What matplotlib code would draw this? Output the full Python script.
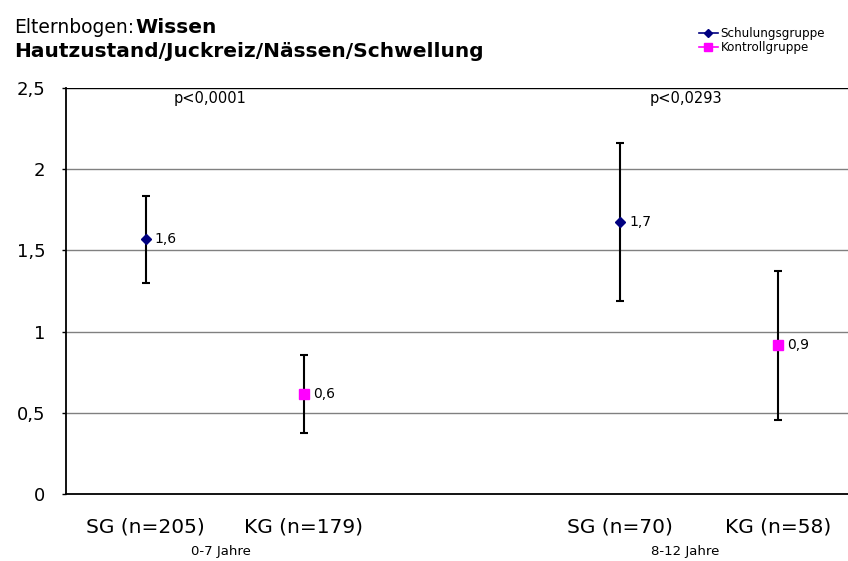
import matplotlib
matplotlib.use("Agg")
import matplotlib.pyplot as plt
import matplotlib.transforms as mtransforms
from matplotlib.lines import Line2D

categories = ["SG (n=205)", "KG (n=179)", "SG (n=70)", "KG (n=58)"]
positions = [0, 1, 3, 4]
groups = ["0-7 Jahre", "8-12 Jahre"]
p_values = ["p<0,0001", "p<0,0293"]
sg_pos = [0, 3]
sg_mean = [1.57, 1.675]
sg_upper = [1.835, 2.16]
sg_lower = [1.30, 1.19]
sg_labels = ["1,6", "1,7"]
kg_pos = [1, 4]
kg_mean = [0.616, 0.917]
kg_upper = [0.856, 1.373]
kg_lower = [0.376, 0.456]
kg_labels = ["0,6", "0,9"]
yticks = [0, 0.5, 1, 1.5, 2, 2.5]
ytick_labels = ["0", "0,5", "1", "1,5", "2", "2,5"]

plt.rcParams["font.family"] = ["DejaVu Sans"]

W, H = 848, 561
fig = plt.figure(figsize=(W / 100, H / 100), dpi=100)
ax = fig.add_axes([66 / W, (H - 494) / H, 1 - 66 / W, (494 - 88) / H])
ax.set_xlim(-0.505, 4.44)
ax.set_ylim(0, 2.5)

for y in yticks[1:]:
    ax.axhline(y, color="#808080" if y < 2.5 else "#000000", lw=1.0, zorder=1)

for pos, m, lo, hi in zip(sg_pos, sg_mean, sg_lower, sg_upper):
    ax.errorbar(pos, m, yerr=[[m - lo], [hi - m]], fmt="none", ecolor="black",
                elinewidth=1.5, capsize=2.6, capthick=1.5, zorder=3)
for pos, m, lo, hi in zip(kg_pos, kg_mean, kg_lower, kg_upper):
    ax.errorbar(pos, m, yerr=[[m - lo], [hi - m]], fmt="none", ecolor="black",
                elinewidth=1.5, capsize=2.6, capthick=1.5, zorder=3)
ax.plot(sg_pos, sg_mean, linestyle="none", marker="D", color="#000080",
        markersize=5, zorder=4)
ax.plot(kg_pos, kg_mean, linestyle="none", marker="s", color="#FF00FF",
        markersize=7, zorder=4)

for pos, m, lab in zip(sg_pos, sg_mean, sg_labels):
    ax.annotate(lab, (pos, m), xytext=(6.5, 0), textcoords="offset points",
                va="center", ha="left", fontsize=10)
for pos, m, lab in zip(kg_pos, kg_mean, kg_labels):
    ax.annotate(lab, (pos, m), xytext=(6.5, 0), textcoords="offset points",
                va="center", ha="left", fontsize=10)

for s in ["top", "right"]:
    ax.spines[s].set_visible(False)
ax.spines["left"].set_linewidth(1.3)
ax.spines["bottom"].set_linewidth(1.3)

ax.set_yticks(yticks)
ax.set_yticklabels(ytick_labels, fontsize=13)
ax.tick_params(axis="y", length=3, width=1.0, pad=12)
ax.set_xticks(positions)
ax.set_xticklabels(categories, fontsize=14.5)
ax.tick_params(axis="x", length=0, pad=17)

trans = mtransforms.blended_transform_factory(ax.transData, fig.transFigure)
group_x = [0.475, 3.41]
p_x = [0.405, 3.415]
for gx, g in zip(group_x, groups):
    fig.text(gx, 1 - 551 / H, g, transform=trans, ha="center", va="center",
             fontsize=9.5)
for px, p in zip(p_x, p_values):
    fig.text(px, 1 - 98 / H, p, transform=trans, ha="center", va="center",
             fontsize=10.5)

t1 = fig.text(14 / W, 1 - 33 / H, "Elternbogen:", ha="left", va="baseline",
              fontsize=13.5)
fig.canvas.draw()
bb = t1.get_window_extent(renderer=fig.canvas.get_renderer())
fig.text(bb.x1 / W + 1 / W, 1 - 33 / H, "Wissen", ha="left", va="baseline",
         fontsize=14.5, fontweight="bold")
fig.text(14 / W, 1 - 57 / H, "Hautzustand/Juckreiz/Nässen/Schwellung", ha="left",
         va="baseline", fontsize=14.5, fontweight="bold")

handles = [Line2D([], [], color="#000080", marker="D", markersize=4, lw=1.2),
           Line2D([], [], color="#FF00FF", marker="s", markersize=5.5, lw=1.2)]
fig.legend(handles, ["Schulungsgruppe", "Kontrollgruppe"], loc="upper left",
           bbox_to_anchor=(699 / W, 1 - 27 / H), frameon=False,
           prop={"size": 8.6}, handlelength=1.55, handletextpad=0.25,
           labelspacing=0.12, borderpad=0, borderaxespad=0)

fig.savefig("out.png", dpi=100)
